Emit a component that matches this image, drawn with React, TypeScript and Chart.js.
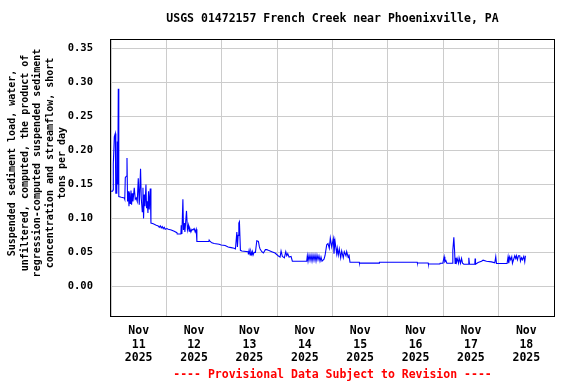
import React, { useEffect, useRef } from 'react';
import { Chart, registerables } from 'chart.js';

Chart.register(...registerables);

const TITLE = 'USGS 01472157 French Creek near Phoenixville, PA';
const FOOTER = '---- Provisional Data Subject to Revision ----';
const Y_TITLE_LINES = [
  'Suspended sediment load, water,',
  'unfiltered, computed, the product of',
  'regression-computed suspended sediment',
  'concentration and streamflow, short',
  'tons per day',
];
const MONTH = 'Nov';
const YEAR = '2025';
const DAY_LABELS = ['11', '12', '13', '14', '15', '16', '17', '18'];
const Y_TICKS = [0, 0.05, 0.1, 0.15, 0.2, 0.25, 0.3, 0.35];
const X_MIN = 0;
const X_MAX = 192;
const Y_MIN = -0.0437;
const Y_MAX = 0.3626;

// hours since Nov 11 2025 00:00
const HOURS = [
  0, 0.69, 0.91, 1.0, 1.43, 1.86, 2.08, 2.51, 2.73, 2.94, 3.16, 3.38, 4.46, 5.76, 5.97, 6.19, 6.62, 6.93, 7.18, 7.49,
  7.79, 8.05, 8.35, 8.66, 8.92, 9.22, 9.52, 10.08, 10.52, 10.95, 11.38, 11.82, 12.25, 12.81, 13.11, 13.55, 13.85, 14.11, 14.41, 14.72,
  15.15, 15.41, 15.71, 16.01, 16.27, 16.58, 17.01, 17.31, 18.31, 19.61, 20.47, 20.91, 21.34, 21.77, 22.2, 22.64, 23.07, 23.5, 24.24, 24.8,
  26.1, 27.4, 28.57, 28.7, 30.3, 30.43, 30.73, 31.16, 31.42, 31.73, 32.03, 32.29, 32.72, 33.15, 33.59, 33.89, 34.19, 34.63, 35.06, 35.49,
  36.05, 36.49, 36.92, 37.22, 38.65, 40.81, 42.42, 42.55, 42.98, 43.71, 44.71, 46.87, 47.74, 49.47, 50.77, 52.07, 53.37, 53.93, 54.54, 54.79,
  55.1, 55.4, 55.66, 56.09, 56.7, 59.43, 59.56, 59.86, 60.29, 60.6, 61.03, 61.29, 61.59, 62.02, 62.59, 63.19, 63.88, 64.32, 64.62, 65.36,
  66.05, 66.91, 67.52, 68.21, 69.68, 71.11, 72.41, 73.28, 73.71, 74.27, 74.7, 75.14, 75.74, 76.17, 76.61, 77.17, 78.04, 78.6, 81.93, 84.83,
  85.09, 85.4, 85.83, 86.26, 86.69, 87.13, 87.56, 87.99, 88.42, 88.86, 89.29, 89.72, 90.15, 90.59, 91.02, 91.45, 92.32, 92.75, 93.49, 94.05,
  94.61, 95.05, 95.65, 96.35, 96.65, 97.08, 97.82, 98.08, 98.51, 98.94, 99.55, 99.98, 100.67, 101.11, 101.84, 102.15, 102.84, 103.14, 103.57, 107.6,
  107.69, 116.26, 116.34, 132.7, 132.79, 137.46, 137.55, 142.53, 142.66, 143.83, 144.39, 144.69, 145.12, 145.56, 148.02, 148.15, 148.59, 148.9, 149.15, 149.45,
  149.76, 150.02, 150.62, 150.88, 151.49, 151.92, 152.35, 152.91, 154.78, 155.08, 155.38, 157.68, 157.81, 157.98, 159.1, 160.57, 161.27, 162.74, 164.9, 166.33,
  166.76, 167.07, 171.66, 172.09, 172.39, 172.82, 173.26, 173.69, 173.99, 174.99, 175.42, 175.72, 176.16, 176.59, 177.15, 177.46, 177.89, 178.32, 178.89, 179.32,
  179.62,
];

// suspended sediment load, short tons per day
const LOAD = [
  0.14, 0.14, 0.142, 0.18, 0.22, 0.225, 0.137, 0.137, 0.213, 0.15, 0.291, 0.132, 0.131, 0.13, 0.128, 0.16, 0.162, 0.189, 0.125, 0.14,
  0.118, 0.138, 0.122, 0.141, 0.12, 0.137, 0.125, 0.145, 0.128, 0.13, 0.125, 0.159, 0.12, 0.173, 0.13, 0.11, 0.145, 0.1, 0.135, 0.118,
  0.15, 0.115, 0.125, 0.108, 0.14, 0.113, 0.144, 0.093, 0.092, 0.09, 0.089, 0.087, 0.089, 0.086, 0.088, 0.085, 0.087, 0.084, 0.085, 0.084,
  0.083, 0.081, 0.079, 0.077, 0.077, 0.09, 0.077, 0.128, 0.083, 0.093, 0.08, 0.091, 0.111, 0.083, 0.09, 0.081, 0.085, 0.08, 0.084, 0.083,
  0.085, 0.08, 0.084, 0.066, 0.066, 0.066, 0.066, 0.068, 0.066, 0.064, 0.063, 0.062, 0.0607, 0.06, 0.058, 0.057, 0.056, 0.055, 0.08, 0.058,
  0.075, 0.093, 0.095, 0.053, 0.052, 0.051, 0.047, 0.053, 0.046, 0.052, 0.047, 0.051, 0.046, 0.05, 0.05, 0.067, 0.066, 0.058, 0.055, 0.051,
  0.049, 0.054, 0.054, 0.053, 0.051, 0.049, 0.045, 0.043, 0.052, 0.044, 0.043, 0.042, 0.051, 0.045, 0.048, 0.043, 0.044, 0.037, 0.037, 0.037,
  0.045, 0.037, 0.046, 0.038, 0.046, 0.037, 0.046, 0.038, 0.046, 0.037, 0.046, 0.039, 0.045, 0.037, 0.043, 0.037, 0.04, 0.045, 0.061, 0.063,
  0.056, 0.071, 0.058, 0.07, 0.048, 0.067, 0.048, 0.056, 0.046, 0.055, 0.042, 0.052, 0.042, 0.051, 0.045, 0.051, 0.042, 0.047, 0.0355, 0.0355,
  0.0342, 0.0342, 0.0355, 0.0355, 0.0343, 0.0343, 0.0328, 0.0328, 0.034, 0.034, 0.0435, 0.036, 0.038, 0.034, 0.034, 0.053, 0.072, 0.053, 0.0335, 0.042,
  0.036, 0.041, 0.034, 0.042, 0.034, 0.041, 0.034, 0.0325, 0.0325, 0.042, 0.0325, 0.0325, 0.041, 0.0325, 0.035, 0.037, 0.0385, 0.037, 0.036, 0.0345,
  0.0435, 0.0335, 0.0335, 0.0435, 0.034, 0.0435, 0.039, 0.0435, 0.034, 0.045, 0.041, 0.045, 0.039, 0.045, 0.045, 0.037, 0.042, 0.039, 0.044, 0.036,
  0.045,
];

const X_TICKS = [0, 12, 24, 36, 48, 60, 72, 84, 96, 108, 120, 132, 144, 156, 168, 180, 192];

const FONT_FAMILY = '"DejaVu Sans Mono", monospace';

const textPlugin = {
  id: 'usgsText',
  afterDraw(chart: any) {
    const { ctx, chartArea: a } = chart;
    ctx.save();
    // plot frame
    ctx.strokeStyle = '#000000';
    ctx.lineWidth = 1;
    ctx.strokeRect(Math.round(a.left) - 0.5, Math.round(a.top) - 0.5, Math.round(a.right - a.left) + 1, Math.round(a.bottom - a.top) + 1);
    const cx = (a.left + a.right) / 2;
    ctx.textAlign = 'center';
    ctx.textBaseline = 'middle';
    ctx.fillStyle = '#000000';
    ctx.font = `bold 11.5px ${FONT_FAMILY}`;
    ctx.fillText(TITLE, cx, 19);
    ctx.fillStyle = '#ff0000';
    ctx.fillText(FOOTER, cx, 375);
    // y-axis title
    ctx.fillStyle = '#000000';
    ctx.font = `bold 10px ${FONT_FAMILY}`;
    ctx.translate(37.5, 163);
    ctx.rotate(-Math.PI / 2);
    const n = Y_TITLE_LINES.length;
    Y_TITLE_LINES.forEach((line, i) => {
      ctx.fillText(line, 0, (i - (n - 1) / 2) * 12.5);
    });
    ctx.restore();
  },
};

export default function App() {
  const canvasRef = useRef<HTMLCanvasElement | null>(null);

  useEffect(() => {
    document.body.style.margin = '0';
    const canvas = canvasRef.current;
    if (!canvas) return;
    const points = HOURS.map((h, i) => ({ x: h, y: LOAD[i] }));
    const xFont = { family: FONT_FAMILY, size: 11.5, weight: 'bold' as const };
    const yFont = { family: FONT_FAMILY, size: 10.5, weight: 'bold' as const };
    const chart = new Chart(canvas, {
      type: 'line',
      data: {
        datasets: [
          {
            data: points,
            borderColor: '#0000ff',
            borderWidth: 1.1,
            pointRadius: 0,
            tension: 0,
            fill: false,
          },
        ],
      },
      options: {
        responsive: false,
        animation: false,
        layout: { padding: { left: 0, right: 22, top: 40, bottom: 0 } },
        plugins: {
          legend: { display: false },
          tooltip: { enabled: false },
          title: { display: false },
        },
        scales: {
          x: {
            type: 'linear',
            min: X_MIN,
            max: X_MAX,
            afterBuildTicks: (axis: any) => {
              axis.ticks = X_TICKS.map((v) => ({ value: v }));
            },
            afterFit: (axis: any) => {
              axis.height = 68;
            },
            border: { display: false },
            grid: {
              drawTicks: false,
              color: (c: any) => (c.tick && c.tick.value % 24 === 0 ? '#cccccc' : 'rgba(0,0,0,0)'),
            },
            ticks: {
              autoSkip: false,
              maxRotation: 0,
              minRotation: 0,
              padding: 8,
              color: '#000000',
              font: xFont,
              callback: (value: any) => {
                const v = Number(value);
                if (v % 24 !== 12) return '';
                return [MONTH, DAY_LABELS[(v - 12) / 24], YEAR];
              },
            },
          },
          y: {
            type: 'linear',
            min: Y_MIN,
            max: Y_MAX,
            afterBuildTicks: (axis: any) => {
              axis.ticks = Y_TICKS.map((v) => ({ value: v }));
            },
            afterFit: (axis: any) => {
              axis.width = 111;
            },
            border: { display: false },
            grid: { drawTicks: false, color: '#cccccc' },
            ticks: {
              padding: 18,
              color: '#000000',
              font: yFont,
              callback: (value: any) => Number(value).toFixed(2),
            },
          },
        },
      },
      plugins: [textPlugin],
    });
    return () => chart.destroy();
  }, []);

  return <canvas ref={canvasRef} width={576} height={384} style={{ display: 'block' }} />;
}
